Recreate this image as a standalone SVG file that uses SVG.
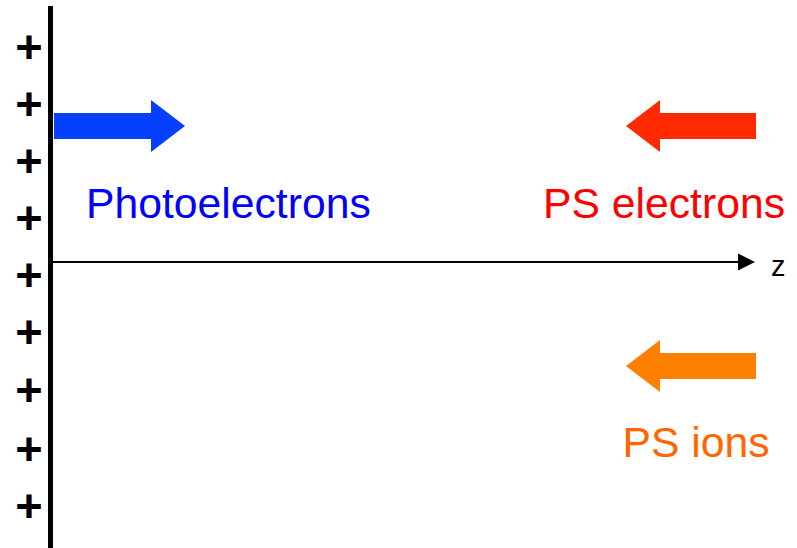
<svg xmlns="http://www.w3.org/2000/svg" width="797" height="548" viewBox="0 0 797 548">
<style>
.lbl{font-family:"Liberation Sans",Arial,sans-serif;font-size:42.7px}
.plus{font-family:"Liberation Sans",Arial,sans-serif;font-size:47px;font-weight:bold;fill:#000;text-anchor:middle}
.axis{stroke:#000;stroke-width:2;fill:none}
</style>
<rect width="797" height="548" fill="#fff"/>
<g id="plate">
<rect x="48" y="6" width="5" height="542" fill="#000"/>
<text class="plus" x="29" y="62.5">+</text>
<text class="plus" x="29" y="119.5">+</text>
<text class="plus" x="29" y="176.5">+</text>
<text class="plus" x="29" y="233.5">+</text>
<text class="plus" x="29" y="291">+</text>
<text class="plus" x="29" y="348">+</text>
<text class="plus" x="29" y="405.5">+</text>
<text class="plus" x="29" y="464.5">+</text>
<text class="plus" x="29" y="521.5">+</text>
</g>
<g id="connectors">
<line class="axis" x1="53" y1="262" x2="740" y2="262"/>
<polygon points="738,253.5 755,262 738,270.5" fill="#000"/>
</g>
<g id="z-label">
<text class="lbl" x="771" y="275.5" style="font-size:29px" fill="#000">z</text>
</g>
<g id="photoelectrons">
<polygon points="54,113 151,113 151,100 185,126 151,152 151,139 54,139" fill="#0540FF"/>
<text class="lbl" x="86" y="218.3" fill="#0000FF">Photoelectrons</text>
</g>
<g id="ps-electrons">
<polygon points="756,113 660,113 660,100 626,126 660,152 660,139 756,139" fill="#FF2A00"/>
<text class="lbl" x="543" y="218.3" fill="#FF0000">PS electrons</text>
</g>
<g id="ps-ions">
<polygon points="756,353 660,353 660,340 626,366 660,392 660,379 756,379" fill="#FF7F00"/>
<text class="lbl" x="622.5" y="456.7" fill="#FF6600">PS ions</text>
</g>
</svg>
